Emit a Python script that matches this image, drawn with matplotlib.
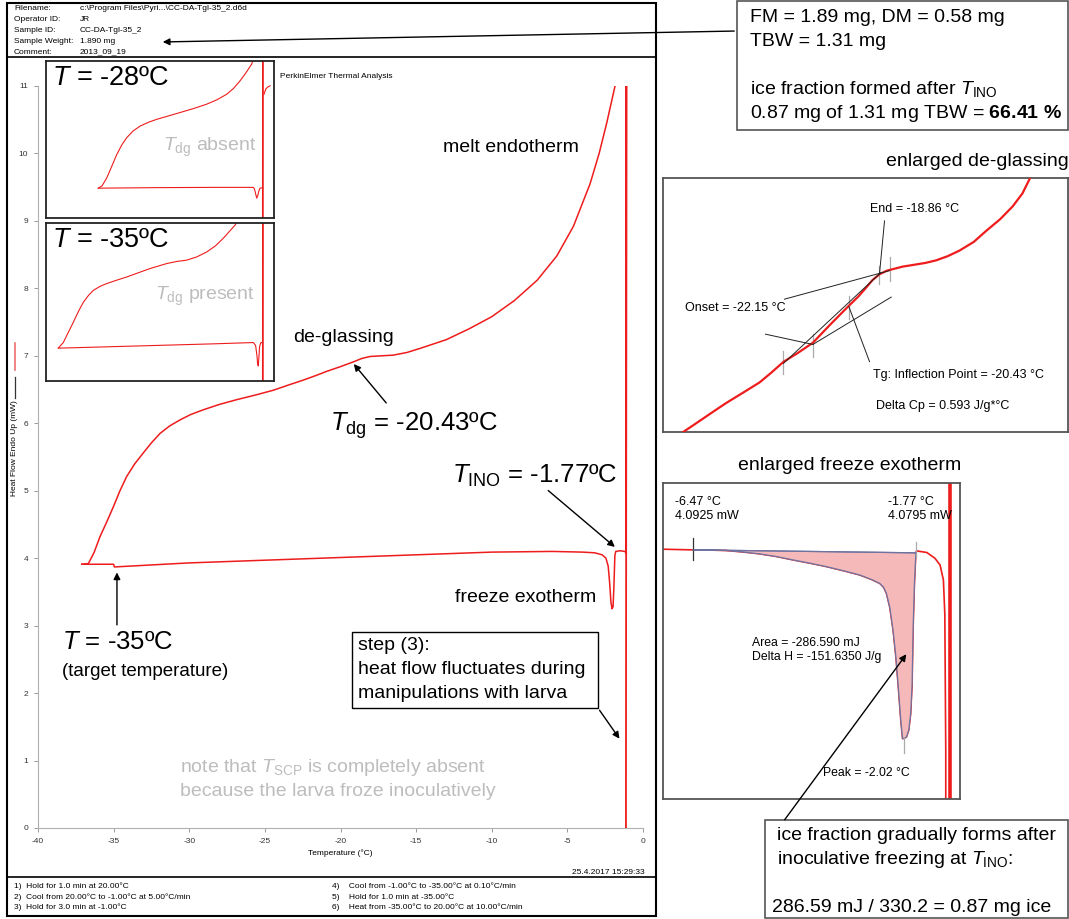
import matplotlib
matplotlib.use('Agg')
import matplotlib.pyplot as plt
from matplotlib.patches import Rectangle, FancyArrowPatch
from matplotlib.lines import Line2D

plt.rcParams['font.family'] = ['Liberation Sans', 'DejaVu Sans']
plt.rcParams['mathtext.fontset'] = 'custom'
plt.rcParams['mathtext.rm'] = 'Liberation Sans'
plt.rcParams['mathtext.it'] = 'Liberation Sans:italic'
plt.rcParams['mathtext.bf'] = 'Liberation Sans:bold'

# ---- main DSC run (target -35 C) ----
# step 6: heating scan
heat_T = [-37.11, -36.67, -36.3, -35.90, -35.45, -35.02, -34.6, -34.14, -33.6, -33.04,
          -32.5, -31.93, -31.3, -30.61, -29.9, -29.07, -28.0, -26.86, -25.6, -24.44,
          -23.4, -22.46, -21.6, -20.91, -20.0, -19.15, -18.6, -18.05, -17.3, -16.51,
          -15.6, -14.74, -13.0, -11.5, -10.0, -8.5, -7.0, -5.7, -4.6, -3.5, -2.9, -2.4,
          -2.1, -1.85, -1.6]
heat_mW = [3.91, 3.92, 4.08, 4.32, 4.54, 4.76, 4.99, 5.21, 5.40, 5.56,
           5.71, 5.85, 5.96, 6.05, 6.13, 6.20, 6.28, 6.35, 6.42, 6.49,
           6.57, 6.64, 6.71, 6.77, 6.84, 6.91, 6.96, 6.99, 7.00, 7.01,
           7.05, 7.11, 7.24, 7.40, 7.58, 7.82, 8.12, 8.48, 8.92, 9.55, 10.0, 10.45,
           10.75, 11.0, 11.6]
# step 4/5: cooling scan and hold at -35
cool_T = [-1.12, -1.2, -1.5, -1.8, -1.86, -1.92, -1.98, -2.05, -2.12, -2.2, -2.3, -2.45,
          -2.7, -3.2, -4.0, -6.0, -10.0, -15.0, -20.0, -25.0, -30.0, -34.95, -35.0, -37.1]
cool_mW = [4.08, 4.10, 4.11, 4.10, 4.04, 3.60, 3.28, 3.25, 3.35, 3.62, 3.88, 4.00,
           4.05, 4.08, 4.09, 4.10, 4.09, 4.05, 4.01, 3.97, 3.93, 3.87, 3.91, 3.91]
# step 3: hold at -1 C, heat flow fluctuates
hold_T = [-1.12, -1.10, -1.11, -1.13, -1.12]
hold_mW = [4.08, 11.5, 5.0, -0.5, 0.0]

x_ticks = [-40, -35, -30, -25, -20, -15, -10, -5, 0]
y_ticks = [0, 1, 2, 3, 4, 5, 6, 7, 8, 9, 10, 11]

# ---- inset: target -28 C ----
in1_heat_T = [-30.17, -29.5, -28.68, -27.8, -26.92, -26.0, -25.15, -24.0, -22.81, -21.3,
              -19.86, -17.8, -15.74, -13.4, -11.03, -9.2, -7.50, -6.3, -5.15, -4.1, -3.09, -2.5]
in1_heat_mW = [3.89, 3.98, 4.28, 4.72, 5.17, 5.55, 5.82, 6.08, 6.26, 6.41,
               6.52, 6.65, 6.78, 6.93, 7.10, 7.27, 7.48, 7.70, 7.99, 8.30, 8.63, 9.0]
in1_cool_T = [-1.15, -1.4, -1.62, -1.8, -2.0, -2.2, -2.4, -2.6, -2.8, -10.0, -20.0, -30.17]
in1_cool_mW = [3.90, 3.90, 3.89, 3.80, 3.62, 3.51, 3.68, 3.86, 3.92, 3.92, 3.91, 3.89]
in1_hold_T = [-1.15, -1.14, -1.15]
in1_hold_mW = [2.0, 9.5, 2.0]
in1_melt_T = [-0.91, -0.6, -0.3, 0.15]
in1_melt_mW = [7.48, 7.68, 7.75, 7.80]

# ---- inset: target -35 C ----
in2_heat_T = [-37.23, -36.35, -35.5, -34.58, -33.7, -32.81, -31.9, -31.05, -29.9, -28.68,
              -26.9, -25.15, -23.1, -21.04, -18.09, -16.3, -14.56, -12.8, -11.03, -9.5,
              -8.10, -6.03, -4.8]
in2_heat_mW = [4.00, 4.21, 4.58, 4.98, 5.38, 5.74, 6.00, 6.19, 6.34, 6.45,
               6.58, 6.70, 6.86, 7.02, 7.21, 7.29, 7.34, 7.46, 7.65, 7.88,
               8.17, 8.67, 9.06]
in2_cool_T = [-1.15, -1.3, -1.5, -1.7, -1.8, -1.92, -2.05, -2.15, -2.4, -2.8,
              -10.0, -20.0, -30.0, -35.0, -37.23]
in2_cool_mW = [4.20, 4.21, 4.20, 4.05, 3.70, 3.32, 3.40, 3.70, 4.10, 4.21,
               4.16, 4.10, 4.04, 4.01, 4.00]
in2_hold_T = [-1.15, -1.14, -1.15]
in2_hold_mW = [2.0, 9.5, 2.0]

# ---- enlarged de-glassing ----
dg_T = [-29.6, -28.81, -28.2, -27.6, -27.0, -26.43, -25.6, -24.78, -24.2, -23.6, -22.9,
        -22.15, -21.3, -20.42, -19.9, -19.52, -19.2, -18.86, -18.5, -18.2, -17.7, -17.22,
        -16.6, -16.07, -15.5, -14.91, -14.2, -13.6, -12.9, -12.28, -11.8, -11.46, -11.2]
dg_mW = [4.10, 4.40, 4.56, 4.72, 4.88, 5.03, 5.23, 5.43, 5.62, 5.83, 6.00,
         6.20, 6.55, 6.90, 7.10, 7.27, 7.42, 7.53, 7.60, 7.63, 7.68, 7.71,
         7.75, 7.80, 7.88, 7.99, 8.16, 8.37, 8.60, 8.85, 9.10, 9.37, 9.60]
onset_T, infl_T, end_T = -22.15, -20.43, -18.86

# ---- enlarged freeze exotherm ----
fz_T = [-7.10, -6.47, -6.1, -5.77, -5.4, -5.06, -4.7, -4.36, -4.0, -3.655, -3.3, -2.95,
        -2.7, -2.53, -2.45, -2.39, -2.32, -2.25, -2.19, -2.14, -2.09, -2.05, -1.97, -1.92,
        -1.88, -1.85, -1.83, -1.80, -1.77, -1.755, -1.54, -1.37, -1.26, -1.19, -1.16, -1.14, -1.14]
fz_mW = [4.0954, 4.0925, 4.0915, 4.0896, 4.083, 4.075, 4.063, 4.0484, 4.034, 4.019,
         4.001, 3.982, 3.962, 3.945, 3.928, 3.901, 3.84, 3.739, 3.62, 3.489, 3.35,
         3.262, 3.269, 3.30, 3.372, 3.50, 3.739, 3.95, 4.080, 4.088, 4.081, 4.056, 4.026,
         3.96, 3.81, 3.2, 2.9]
base_T = [-6.47, -1.77]
base_mW = [4.0925, 4.0795]
peak_T = -2.02
hold_line_T = -1.05

W, H = 1069, 919
RED = '#ee1c1c'
GRAY_TXT = '#bdbdbd'

fig = plt.figure(figsize=(W / 100, H / 100), dpi=100)


def box_axes(x0, y0, x1, y1):
    return fig.add_axes([x0 / W, 1 - y1 / H, (x1 - x0) / W, (y1 - y0) / H])


def ftext(x, y, s, **kw):
    kw.setdefault('va', 'center')
    return fig.text(x / W, 1 - y / H, s, **kw)


def fline(xs, ys, **kw):
    fig.add_artist(Line2D([x / W for x in xs], [1 - y / H for y in ys],
                          transform=fig.transFigure, **kw))


def frect(x0, y0, x1, y1, **kw):
    fig.add_artist(Rectangle((x0 / W, 1 - y1 / H), (x1 - x0) / W, (y1 - y0) / H,
                             transform=fig.transFigure, fill=False, **kw))


def farrow(p0, p1, **kw):
    fig.add_artist(FancyArrowPatch((p0[0] / W, 1 - p0[1] / H), (p1[0] / W, 1 - p1[1] / H),
                                   transform=fig.transFigure, arrowstyle='-|>',
                                   mutation_scale=10, color='black', lw=1, **kw))


# ---------------- page frame (PerkinElmer printout) ----------------
frect(7, 3, 656, 916, lw=1.5, edgecolor='black')
fline([7, 656], [57, 57], lw=1.2, color='black')
fline([7, 656], [877, 877], lw=1.2, color='black')

hdr_keys = ['Filename:', 'Operator ID:', 'Sample ID:', 'Sample Weight:', 'Comment:']
hdr_vals = ['c:\\Program Files\\Pyri...\\CC-DA-Tgl-35_2.d6d', 'JR', 'CC-DA-Tgl-35_2',
            '1.890 mg', '2013_09_19']
for i, (k, v) in enumerate(zip(hdr_keys, hdr_vals)):
    ftext(14, 9 + i * 10.8, k, fontsize=6)
    ftext(80, 9 + i * 10.8, v, fontsize=6)

steps_l = ['1)  Hold for 1.0 min at 20.00°C',
           '2)  Cool from 20.00°C to -1.00°C at 5.00°C/min',
           '3)  Hold for 3.0 min at -1.00°C']
steps_r = ['4)    Cool from -1.00°C to -35.00°C at 0.10°C/min',
           '5)    Hold for 1.0 min at -35.00°C',
           '6)    Heat from -35.00°C to 20.00°C at 10.00°C/min']
for i in range(3):
    ftext(14, 886 + i * 10.8, steps_l[i], fontsize=6)
    ftext(332, 886 + i * 10.8, steps_r[i], fontsize=6)
ftext(645, 872, '25.4.2017 15:29:33', fontsize=6, ha='right')
ftext(280, 77, 'PerkinElmer Thermal Analysis', fontsize=6)

# ---------------- main chart ----------------
ax = box_axes(38, 86, 643, 828)
ax.plot(heat_T, heat_mW, color=RED, lw=1.1)
ax.plot(cool_T, cool_mW, color=RED, lw=1.1)
ax.plot(hold_T, hold_mW, color=RED, lw=1.3)
ax.set_xlim(-40, 0)
ax.set_ylim(0, 11)
ax.set_xticks(x_ticks)
ax.set_yticks(y_ticks)
ax.set_xticklabels([str(t) for t in x_ticks])
ax.set_yticklabels([str(t) for t in y_ticks])
for s in ['top', 'right']:
    ax.spines[s].set_visible(False)
for s in ['left', 'bottom']:
    ax.spines[s].set_color('#b0b0b0')
ax.tick_params(direction='out', length=3, width=0.7, color='#999999', labelsize=6,
               labelcolor='#333333', pad=4)
ax.set_xlabel('Temperature (°C)', fontsize=6, labelpad=3)
ax.patch.set_alpha(0)

ftext(15, 448, 'Heat Flow Endo Up (mW)', fontsize=6, rotation=90, ha='center')
fline([15, 15], [343, 370], lw=1.2, color='#f07070')
fline([15, 15], [377, 398], lw=0.9, color='#333333')

arrow_kw = dict(arrowstyle='-|>', color='black', lw=1, mutation_scale=10)

# annotations on main chart
ftext(443, 148, 'melt endotherm', fontsize=14)
ftext(293, 338, 'de-glassing', fontsize=14)
ftext(330, 426, r'$T_{\mathrm{dg}}$ = -20.43ºC', fontsize=18.5)
ax.annotate('', xy=(-19.24, 6.91), xytext=(-16.86, 6.27), arrowprops=arrow_kw)
ftext(452, 476, r'$T_{\mathrm{INO}}$ = -1.77ºC', fontsize=18.5)
ax.annotate('', xy=(-1.72, 4.14), xytext=(-6.41, 5.03), arrowprops=arrow_kw)
ftext(455, 597, 'freeze exotherm', fontsize=14)
ftext(62, 642, r'$T$ = -35ºC', fontsize=18.5)
ftext(62, 672, '(target temperature)', fontsize=13.5)
ax.annotate('', xy=(-34.78, 3.83), xytext=(-34.78, 2.97), arrowprops=arrow_kw)

frect(352, 632, 598, 708, lw=1, edgecolor='black')
ftext(358, 646, 'step (3):', fontsize=14)
ftext(358, 670, 'heat flow fluctuates during', fontsize=14)
ftext(358, 694, 'manipulations with larva', fontsize=14)
ax.annotate('', xy=(-1.45, 1.29), xytext=(-2.98, 1.78), arrowprops=arrow_kw)

ftext(180, 768, r'note that $T_{\mathrm{SCP}}$ is completely absent', fontsize=14, color=GRAY_TXT)
ftext(180, 792, 'because the larva froze inoculatively', fontsize=14, color=GRAY_TXT)

# ---------------- insets ----------------
insets = [
    (box_axes(46, 61, 274, 218), in1_heat_T, in1_heat_mW, in1_cool_T, in1_cool_mW,
     in1_hold_T, in1_hold_mW, r'$T$ = -28ºC', r'$T_{\mathrm{dg}}$ absent', (163, 147)),
    (box_axes(46, 223, 274, 381), in2_heat_T, in2_heat_mW, in2_cool_T, in2_cool_mW,
     in2_hold_T, in2_hold_mW, r'$T$ = -35ºC', r'$T_{\mathrm{dg}}$ present', (155, 296)),
]
for a, hT, hM, cT, cM, dT, dM, lab, note, npos in insets:
    a.plot(hT, hM, color=RED, lw=0.8)
    a.plot(cT, cM, color=RED, lw=0.8)
    a.plot(dT, dM, color=RED, lw=1.0)
    a.set_xlim(-39.4, 0.85)
    a.set_ylim(2.75, 8.75)
    a.set_xticks([])
    a.set_yticks([])
    for s in a.spines.values():
        s.set_linewidth(1.3)
        s.set_color('#222222')
    a.text(0.025, 0.89, lab, transform=a.transAxes, fontsize=19.5, va='center')
    ftext(npos[0], npos[1], note, fontsize=14, color=GRAY_TXT)
insets[0][0].plot(in1_melt_T, in1_melt_mW, color=RED, lw=0.8)

# ---------------- top right summary box ----------------
frect(737, 1, 1068, 130, lw=1.2, edgecolor='#555555')
ftext(750, 18, 'FM = 1.89 mg, DM = 0.58 mg', fontsize=14)
ftext(750, 42, 'TBW = 1.31 mg', fontsize=14)
ftext(750, 89, r'ice fraction formed after $T_{\mathrm{INO}}$', fontsize=14)
ftext(750, 114, r'0.87 mg of 1.31 mg TBW = $\mathbf{66.41\ \%}$', fontsize=14)
farrow((737, 31), (160, 42))

# ---------------- enlarged de-glassing ----------------
ftext(886, 161, 'enlarged de-glassing', fontsize=14)
ad = box_axes(663, 178, 1068, 432)
ad.plot(dg_T, dg_mW, color=RED, lw=1.6, zorder=3)
tan_lines = [([-24.49, onset_T], [6.367, 6.167]),
             ([-23.60, -18.78], [5.80, 7.567]),
             ([onset_T, -18.28], [6.167, 7.087]),
             ([-23.55, -18.37], [7.047, 7.60]),
             ([-18.61, end_T], [8.567, 7.533]),
             ([-19.35, -20.37], [5.833, 6.90])]
for xs, ys in tan_lines:
    ad.plot(xs, ys, color='#222222', lw=0.7, zorder=4)
tick_marks = [(-23.60, 5.60, 6.033), (onset_T, 5.933, 6.367), (-20.37, 6.667, 7.10),
              (end_T, 7.333, 7.70), (-18.32, 7.40, 7.867)]
for tx, y0, y1 in tick_marks:
    ad.plot([tx, tx], [y0, y1], color='#aaaaaa', lw=0.9, zorder=2)
ad.set_xlim(-29.55, -9.55)
ad.set_ylim(4.467, 9.4)
ad.set_xticks([])
ad.set_yticks([])
for s in ad.spines.values():
    s.set_linewidth(1.3)
    s.set_color('#555555')
ad.text(-19.35, 8.8, 'End = -18.86 °C', fontsize=9, va='center')
ad.text(-28.48, 6.867, 'Onset = -22.15 °C', fontsize=9, va='center')
ad.text(-19.19, 5.567, 'Tg: Inflection Point = -20.43 °C', fontsize=9, va='center')
ad.text(-19.03, 4.967, 'Delta Cp = 0.593 J/g*°C', fontsize=9, va='center')

# ---------------- enlarged freeze exotherm ----------------
ftext(738, 465, 'enlarged freeze exotherm', fontsize=14)
af = box_axes(663, 483, 960, 799)
fill_T = [t for t in fz_T if base_T[0] <= t <= base_T[1]] + [base_T[1], base_T[0]]
fill_mW = [m for t, m in zip(fz_T, fz_mW) if base_T[0] <= t <= base_T[1]] + [base_mW[1], base_mW[0]]
af.fill(fill_T, fill_mW, facecolor='#f6b9b9', edgecolor='#6f73a0', lw=0.9, zorder=2)
af.plot(fz_T, fz_mW, color=RED, lw=1.2, zorder=1)
af.plot(base_T, base_mW, color='#6f73a0', lw=0.9, zorder=3)
af.axvline(hold_line_T, color=RED, lw=2.6)
af.plot([base_T[0]] * 2, [4.048, 4.144], color='#333333', lw=0.9)
af.plot([base_T[1]] * 2, [4.063, 4.129], color='#aaaaaa', lw=0.9)
af.plot([peak_T] * 2, [3.20, 3.27], color='#aaaaaa', lw=0.9)
af.set_xlim(-7.10, -0.84)
af.set_ylim(2.997, 4.3866)
af.set_xticks([])
af.set_yticks([])
for s in af.spines.values():
    s.set_linewidth(1.3)
    s.set_color('#555555')
ftext(675, 502, '-6.47 °C', fontsize=9)
ftext(675, 516, '4.0925 mW', fontsize=9)
ftext(888, 502, '-1.77 °C', fontsize=9)
ftext(888, 516, '4.0795 mW', fontsize=9)
ftext(752, 643, 'Area = -286.590 mJ', fontsize=8.8)
ftext(752, 657, 'Delta H = -151.6350 J/g', fontsize=8.8)
ftext(823, 773, 'Peak = -2.02 °C', fontsize=8.8)

# ---------------- bottom right box ----------------
frect(765, 820, 1068, 918, lw=1.2, edgecolor='#555555')
ftext(777, 835, 'ice fraction gradually forms after', fontsize=14)
ftext(777, 860, r'inoculative freezing at $T_{\mathrm{INO}}$:', fontsize=14)
ftext(772, 907, '286.59 mJ / 330.2 = 0.87 mg ice', fontsize=14)
farrow((783, 822), (908, 652))

fig.savefig('out.png', dpi=100)
